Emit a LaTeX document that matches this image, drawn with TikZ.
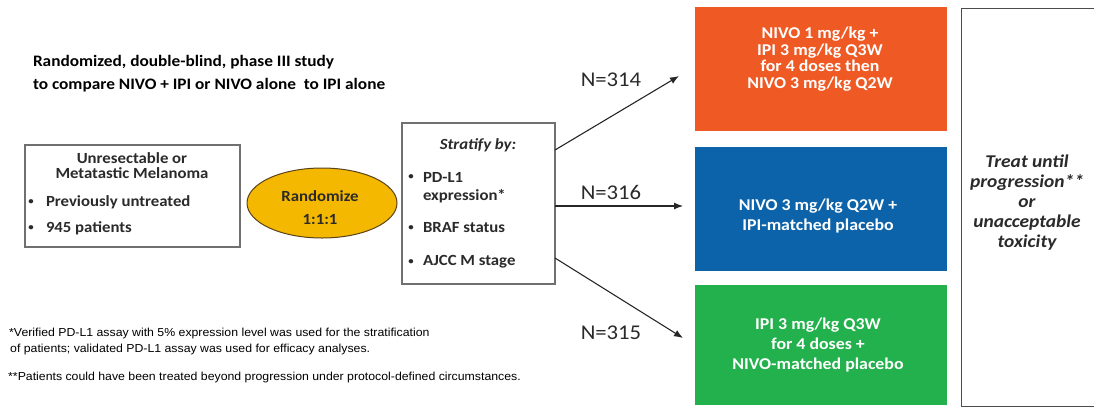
\documentclass[tikz,border=0pt]{standalone}
\usepackage{fontspec}
\setmainfont[FakeStretch=1.08]{Carlito}
\newfontfamily\arialf[FakeStretch=1.06]{Liberation Sans}
\usetikzlibrary{arrows.meta,shapes.geometric}
\definecolor{orng}{HTML}{EF5A24}
\definecolor{blu}{HTML}{0D63A9}
\definecolor{grn}{HTML}{22B14C}
\definecolor{gold}{HTML}{F5B800}
\definecolor{goldedge}{HTML}{5A4318}
\definecolor{boxedge}{HTML}{707070}
\definecolor{txtgray}{HTML}{2A2A2A}
\newcommand{\smbul}{{\fontsize{10}{10}\selectfont\textbullet}}
\begin{document}
\begin{tikzpicture}[x=1pt,y=-1pt,
  lbl/.style={inner sep=0pt, outer sep=0pt, text=txtgray},
  frame/.style={draw=boxedge, line width=1.2pt, inner sep=0pt, fill=white},
  arm/.style={inner sep=0pt, outer sep=0pt, minimum width=252pt},
  armtext/.style={inner sep=0pt, text=white, align=center, font=\fontsize{16.5}{20}\selectfont\bfseries},
  conn/.style={draw=black!85, line width=1.1pt, -{Latex[length=9pt,width=7pt]}},
  nlabel/.style={inner sep=0pt, text=txtgray, font=\fontsize{21}{21}\selectfont},
  boxtext/.style={lbl, font=\fontsize{15.5}{15}\selectfont\bfseries},
  note/.style={inner sep=0pt, text=black, anchor=west, font=\arialf\fontsize{11.6}{16}\selectfont}
]
\useasboundingbox (0,0) rectangle (1094,408);
\clip (0,0) rectangle (1094,408);

% title
\node[lbl, text=black, anchor=west, align=left, font=\fontsize{16}{23}\selectfont\bfseries] (title) at (33,73.5)
  {Randomized, double-blind, phase III study\\to compare NIVO + IPI or NIVO alone\ \ to IPI alone};

% population box
\node[frame, minimum width=215pt, minimum height=102pt] (pop) at (132.5,196) {};
\node[boxtext, align=center] (popt) at (132,165.5) {Unresectable or\\Metatastic Melanoma};
\node[boxtext, anchor=center] (b1) at (31,202) {\smbul};
\node[boxtext, anchor=west] (p1) at (46,202) {Previously untreated};
\node[boxtext, anchor=center] (b2) at (31,228) {\smbul};
\node[boxtext, anchor=west] (p2) at (46,228) {945 patients};

% randomize
\node[ellipse, draw=goldedge, line width=1pt, fill=gold, minimum width=150pt, minimum height=70pt, inner sep=0pt] (rand) at (322,203) {};
\node[boxtext, align=center, font=\fontsize{15.5}{23}\selectfont\bfseries] (randt) at (320,208) {Randomize\\1:1:1};

% stratify box
\node[frame, minimum width=153pt, minimum height=161pt] (strat) at (478.5,203.5) {};
\node[boxtext, font=\fontsize{15.5}{15}\selectfont\bfseries\itshape] (st) at (478,145) {Stratify by:};
\node[boxtext, anchor=center] (sb1) at (411,177) {\smbul};
\node[boxtext, anchor=west] (s1) at (423,177) {PD-L1};
\node[boxtext, anchor=west] (s1b) at (423,196) {expression*};
\node[boxtext, anchor=center] (sb2) at (411,228) {\smbul};
\node[boxtext, anchor=west] (s2) at (423,228) {BRAF status};
\node[boxtext, anchor=center] (sb3) at (411,262) {\smbul};
\node[boxtext, anchor=west] (s3) at (423,262) {AJCC M stage};

% arms
\node[arm, fill=orng, minimum height=124pt] (arm1) at (821,69) {};
\node[armtext, font=\fontsize{16.5}{16.5}\selectfont\bfseries] (arm1t) at (820,59) {NIVO 1 mg/kg +\\IPI 3 mg/kg Q3W\\for 4 doses then\\NIVO 3 mg/kg Q2W};
\node[arm, fill=blu, minimum height=124pt] (arm2) at (821,209) {};
\node[armtext] (arm2t) at (818,216) {NIVO 3 mg/kg Q2W +\\IPI-matched placebo};
\node[arm, fill=grn, minimum height=120pt] (arm3) at (821,345) {};
\node[armtext] (arm3t) at (818,345) {IPI 3 mg/kg Q3W\\for 4 doses +\\NIVO-matched placebo};

% treat box
\node[frame, draw=black!70, minimum width=150pt, minimum height=398pt, anchor=north west] (treat) at (961,8) {};
\node[boxtext, align=center, font=\fontsize{18}{20}\selectfont\bfseries\itshape] (treatt) at (1027,203)
  {Treat until\\progression**\\or\\unacceptable\\toxicity};

% connectors
\coordinate (o1) at (555,150);
\coordinate (o2) at (555,206);
\coordinate (o3) at (555,258);
\coordinate (e1) at (679,76);
\coordinate (e2) at (683,206);
\coordinate (e3) at (683,338);
\draw[conn] (o1) -- (e1);
\draw[conn] (o2) -- (e2);
\draw[conn] (o3) -- (e3);
\node[nlabel] (n1) at (611,80) {N=314};
\node[nlabel] (n2) at (611,192) {N=316};
\node[nlabel] (n3) at (611,333) {N=315};

% notes
\node[note] (note1) at (9,333) {*Verified PD-L1 assay with 5\% expression level was used for the stratification};
\node[note] (note2) at (10,349) {of patients; validated PD-L1 assay was used for efficacy analyses.};
\node[note] (note3) at (8,377) {**Patients could have been treated beyond progression under protocol-defined circumstances.};
\end{tikzpicture}
\end{document}
